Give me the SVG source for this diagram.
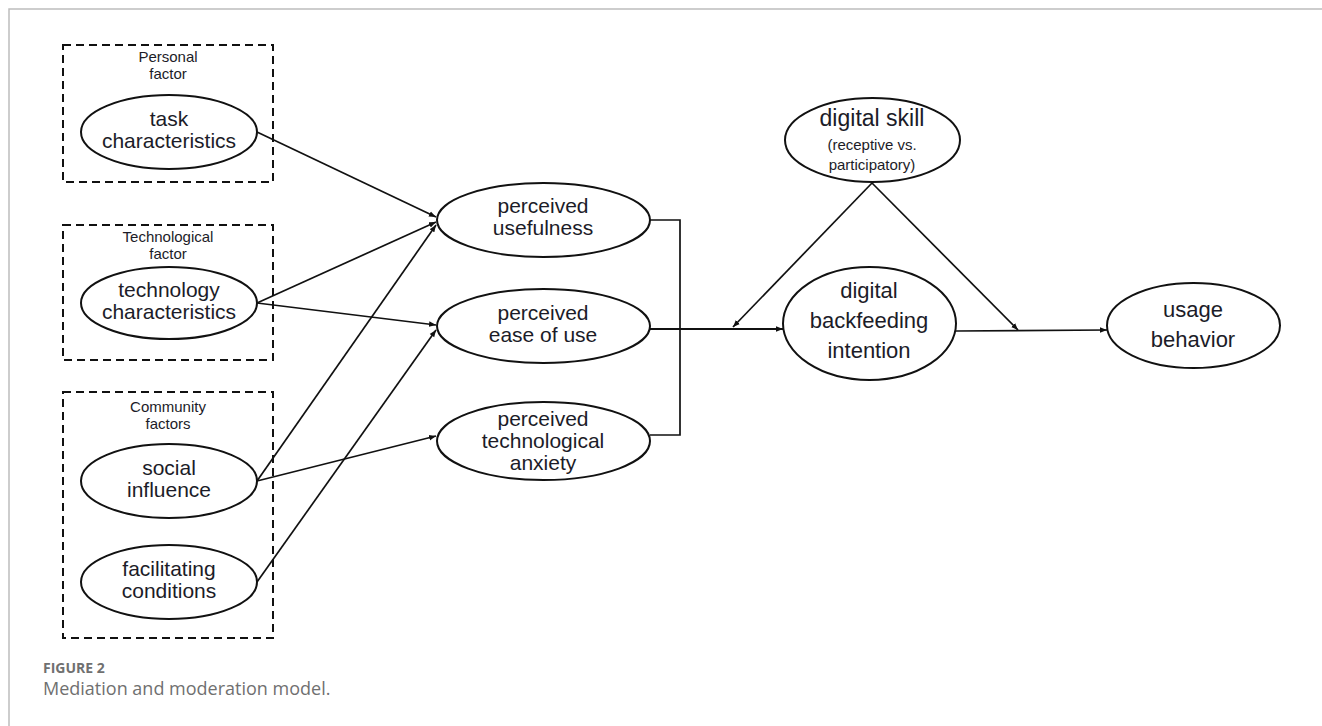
<svg xmlns="http://www.w3.org/2000/svg" width="1322" height="726" viewBox="0 0 1322 726">
<defs>
<marker id="ah" viewBox="0 0 10 10" refX="10" refY="5" markerWidth="7" markerHeight="7" markerUnits="userSpaceOnUse" orient="auto">
<path d="M0,1 L10,5 L0,9 z" fill="#111"/>
</marker>
<style>
.frame{fill:none;stroke:#bdbdbd;stroke-width:1.5}
.grp{fill:none;stroke:#111;stroke-width:2;stroke-dasharray:8,5}
.el{fill:#fff;stroke:#111;stroke-width:2}
.lbl{font-family:"Liberation Sans",Arial,sans-serif;font-size:21px;fill:#1c1c28;text-anchor:middle}
.sm{font-family:"Liberation Sans",Arial,sans-serif;font-size:15px;fill:#1c1c28;text-anchor:middle}
.sub{font-family:"Liberation Sans",Arial,sans-serif;font-size:15px;fill:#1c1c28;text-anchor:middle}
.con{fill:none;stroke:#111;stroke-width:1.7}
.arr{fill:none;stroke:#111;stroke-width:1.7;marker-end:url(#ah)}
.cap1{font-family:"Open Sans","Liberation Sans",sans-serif;font-size:14px;font-weight:bold;fill:#707070}
.cap2{font-family:"Open Sans","Liberation Sans",sans-serif;font-size:18px;fill:#707070}
</style>
</defs>
<rect width="1322" height="726" fill="#fff"/>
<path class="frame" d="M9,726 V9 H1322"/>

<g id="group-personal">
<rect class="grp" x="63" y="45" width="210" height="137"/>
<text class="sm"><tspan x="168" y="62">Personal</tspan><tspan x="168" y="79">factor</tspan></text>
</g>
<g id="group-technological">
<rect class="grp" x="63" y="225" width="210" height="135"/>
<text class="sm"><tspan x="168" y="242">Technological</tspan><tspan x="168" y="259">factor</tspan></text>
</g>
<g id="group-community">
<rect class="grp" x="63" y="392" width="210" height="246"/>
<text class="sm"><tspan x="168" y="412">Community</tspan><tspan x="168" y="429">factors</tspan></text>
</g>

<g id="connectors">
<line class="arr" x1="257" y1="132" x2="436" y2="217"/>
<line class="arr" x1="257" y1="303" x2="436" y2="222"/>
<line class="arr" x1="257" y1="303" x2="436" y2="325"/>
<line class="arr" x1="257" y1="481" x2="436" y2="225"/>
<line class="arr" x1="257" y1="481" x2="436" y2="436"/>
<line class="arr" x1="257" y1="582" x2="436" y2="330"/>
<path class="con" d="M650,220 H680 V435 H650"/>
<line class="arr" x1="650" y1="329" x2="783" y2="329" style="stroke-width:2.2"/>
<line class="arr" x1="872" y1="183" x2="733" y2="327"/>
<line class="arr" x1="872" y1="183" x2="1018" y2="330"/>
<line class="arr" x1="956" y1="331" x2="1107" y2="330"/>
</g>

<g id="task-characteristics">
<ellipse class="el" cx="169" cy="132" rx="88" ry="37"/>
<text class="lbl"><tspan x="169" y="126">task</tspan><tspan x="169" y="148">characteristics</tspan></text>
</g>
<g id="technology-characteristics">
<ellipse class="el" cx="169" cy="303" rx="88" ry="36"/>
<text class="lbl"><tspan x="169" y="297">technology</tspan><tspan x="169" y="319">characteristics</tspan></text>
</g>
<g id="social-influence">
<ellipse class="el" cx="169" cy="481" rx="88" ry="37"/>
<text class="lbl"><tspan x="169" y="475">social</tspan><tspan x="169" y="497">influence</tspan></text>
</g>
<g id="facilitating-conditions">
<ellipse class="el" cx="169" cy="582" rx="88" ry="37"/>
<text class="lbl"><tspan x="169" y="576">facilitating</tspan><tspan x="169" y="598">conditions</tspan></text>
</g>

<g id="perceived-usefulness">
<ellipse class="el" cx="543.5" cy="220" rx="106.5" ry="37"/>
<text class="lbl"><tspan x="543" y="213">perceived</tspan><tspan x="543" y="235">usefulness</tspan></text>
</g>
<g id="perceived-ease">
<ellipse class="el" cx="543.5" cy="326" rx="106.5" ry="37"/>
<text class="lbl"><tspan x="543" y="320">perceived</tspan><tspan x="543" y="342">ease of use</tspan></text>
</g>
<g id="perceived-anxiety">
<ellipse class="el" cx="543.5" cy="441" rx="106.5" ry="39"/>
<text class="lbl"><tspan x="543" y="426">perceived</tspan><tspan x="543" y="448">technological</tspan><tspan x="543" y="470">anxiety</tspan></text>
</g>

<g id="digital-skill">
<ellipse class="el" cx="872.5" cy="140" rx="87.5" ry="42"/>
<text class="lbl" x="872" y="126" style="font-size:23px">digital skill</text>
<text class="sub"><tspan x="872" y="150">(receptive vs.</tspan><tspan x="872" y="170">participatory)</tspan></text>
</g>
<g id="digital-backfeeding-intention">
<ellipse class="el" cx="869.5" cy="323.5" rx="86.5" ry="56.5"/>
<text class="lbl" style="font-size:22px"><tspan x="869" y="298">digital</tspan><tspan x="869" y="328">backfeeding</tspan><tspan x="869" y="358">intention</tspan></text>
</g>
<g id="usage-behavior">
<ellipse class="el" cx="1193.5" cy="325.5" rx="86.5" ry="42.5"/>
<text class="lbl" style="font-size:22px"><tspan x="1193" y="317">usage</tspan><tspan x="1193" y="347">behavior</tspan></text>
</g>

<g id="caption">
<text class="cap1" x="43" y="673">FIGURE 2</text>
<text class="cap2" x="43" y="695">Mediation and moderation model.</text>
</g>
</svg>
